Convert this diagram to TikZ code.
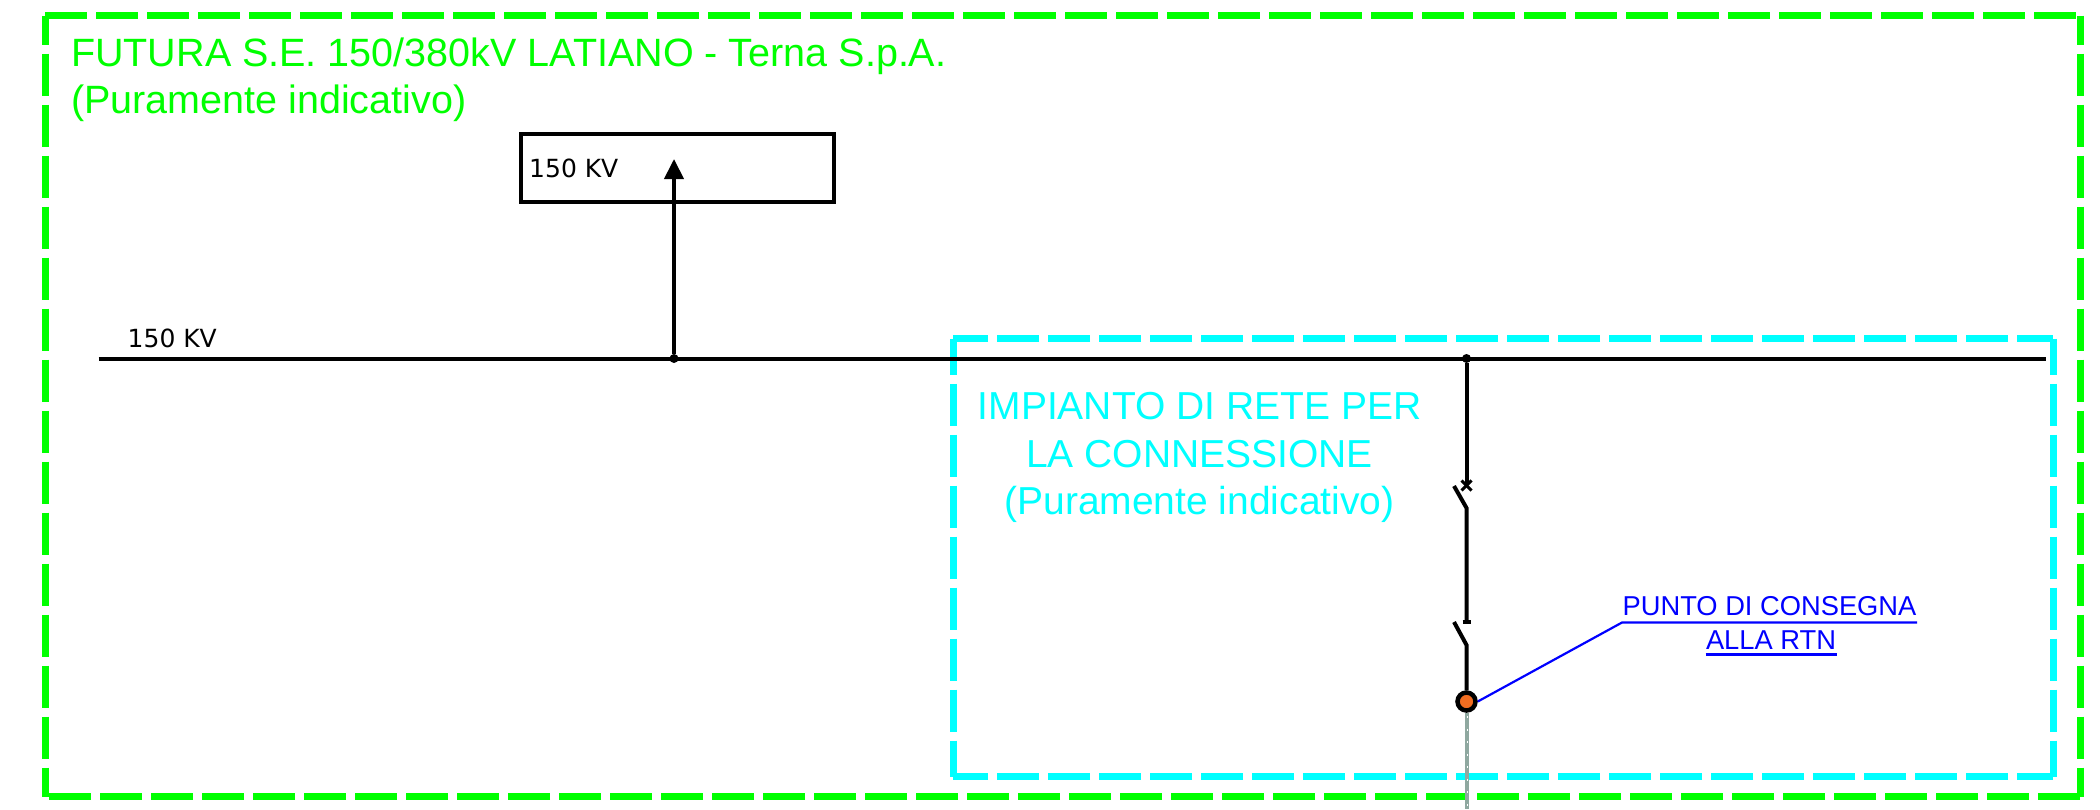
\documentclass[tikz,border=0pt]{standalone}
\usepackage{fontspec}
\setmainfont{Liberation Sans}
\newfontfamily\kvfont{DejaVu Sans}
\usetikzlibrary{arrows.meta}
\definecolor{frameg}{HTML}{00FF00}
\definecolor{framec}{HTML}{00FFFF}
\definecolor{leader}{HTML}{0000FF}
\definecolor{delivery}{HTML}{F26D21}
\definecolor{cablegrey}{HTML}{8FA8A0}
\tikzset{
 x=1pt,y=-1pt,
 framegreen/.style={draw=frameg,line width=7pt,dash pattern=on 42pt off 9pt},
 framecyan/.style={draw=framec,line width=7pt,dash pattern=on 42pt off 9pt},
 bus/.style={draw=black,line width=4pt},
 feeder/.style={draw=black,line width=4pt},
 junction/.style={circle,fill=black,inner sep=0pt,minimum size=9pt},
 lead/.style={draw=leader,line width=2.2pt},
 titletext/.style={text=frameg,font=\fontsize{39.5}{47}\selectfont,align=left,inner sep=0pt},
 cyantext/.style={text=framec,font=\fontsize{39}{47.3}\selectfont,align=center,inner sep=0pt},
 bluetext/.style={text=leader,font=\fontsize{27.3}{27.3}\selectfont,inner sep=0pt},
 kvtext/.style={text=black,font=\kvfont\fontsize{25}{25}\selectfont,inner sep=0pt},
}
\begin{document}
\begin{tikzpicture}
\useasboundingbox (0,0) rectangle (2100,809);
\coordinate (cableend) at (1466.5,809);
\coordinate (cableend2) at (1467.5,809);
% green frame
\coordinate (gtl) at (45,15.5);\coordinate (gtr) at (2080,15.5);
\coordinate (gbl) at (45,796.5);\coordinate (gbr) at (2080,796.5);
\draw[framegreen] (gtl) -- (gtr);
\draw[framegreen] (gbr) -- (gbl);
\draw[framegreen,dash phase=13pt] (gtl) -- (gbl);
\draw[framegreen,dash phase=13pt] (gtr) -- (gbr);
% cyan frame
\coordinate (ctl) at (953,338.5);\coordinate (ctr) at (2053,338.5);
\coordinate (cbl) at (953,776.5);\coordinate (cbr) at (2053,776.5);
\draw[framecyan,dash phase=6pt] (ctr) -- (ctl);
\draw[framecyan,dash phase=6pt] (cbr) -- (cbl);
\draw[framecyan,dash phase=6pt] (ctr) -- (cbr);
\draw[framecyan,dash phase=6pt] (ctl) -- (cbl);
% texts
\node[titletext,anchor=north west] (title) at (71,38) {FUTURA S.E. 150/380kV LATIANO - Terna S.p.A.\\(Puramente indicativo)};
\node[cyantext,anchor=north] (plant) at (1199.5,392.5) {IMPIANTO DI RETE PER\\LA CONNESSIONE\\(Puramente indicativo)};
% substation box
\node[draw=black,line width=4pt,minimum width=313pt,minimum height=68pt,inner sep=0pt,anchor=north west] (box) at (518.5,132) {};
\node[kvtext,anchor=base west] (boxkv) at (529,177.3) {150 KV};
% bus
\coordinate (busl) at (98.5,358.5);\coordinate (busr) at (2046,358.5);
\draw[bus] (busl) -- (busr);
\node[kvtext,anchor=base west] (buskv) at (127.5,347.3) {150 KV};
\node[junction] (j1) at (674,358.5) {};
\node[junction] (j2) at (1466.5,358.5) {};
% feeder to box
\coordinate (arrowtip) at (674,159);
\draw[feeder,-{Triangle[length=20pt,width=19pt]}] (j1) -- (arrowtip);
% bay
\coordinate (sw1top) at (1466.5,485);
\coordinate (sw1piv) at (1466.5,508);
\coordinate (sw1free) at (1454,486);
\coordinate (sw2top) at (1466.5,622);
\coordinate (sw2piv) at (1466.5,645);
\coordinate (sw2free) at (1454,622);
\node[circle,draw=black,line width=4.5pt,fill=delivery,minimum size=18pt,inner sep=0pt] (dp) at (1466.5,701.5) {};
\draw[draw=cablegrey,line width=4pt] (dp.south) -- (cableend);
\draw[white,line width=1.6pt,dash pattern=on 2pt off 10.5pt] (1467.5,716) -- (cableend2);
\draw[feeder] (j2) -- (sw1top);
\draw[feeder,line width=3pt] (1461.5,480.5) -- (1471.5,490.5);
\draw[feeder,line width=3pt] (1461.5,490.5) -- (1471.5,480.5);
\draw[feeder] (sw1free) -- (sw1piv) -- (sw2top);
\draw[feeder,line width=4pt] (1462.5,622) -- (1470.5,622);
\draw[feeder] (sw2free) -- (sw2piv) -- (dp.north);
% delivery label
\node[bluetext,anchor=base] (lab1) at (1769.5,615.7) {PUNTO DI CONSEGNA};
\node[bluetext,anchor=base] (lab2) at (1771,649) {ALLA RTN};
\coordinate (u1l) at (1622,622.5);\coordinate (u1r) at (1917,622.5);
\coordinate (u2l) at (1705.5,654.5);\coordinate (u2r) at (1837,654.5);
\draw[lead] (u1r) -- (u1l) -- (dp.east);
\draw[lead] (u2l) -- (u2r);
\end{tikzpicture}
\end{document}
